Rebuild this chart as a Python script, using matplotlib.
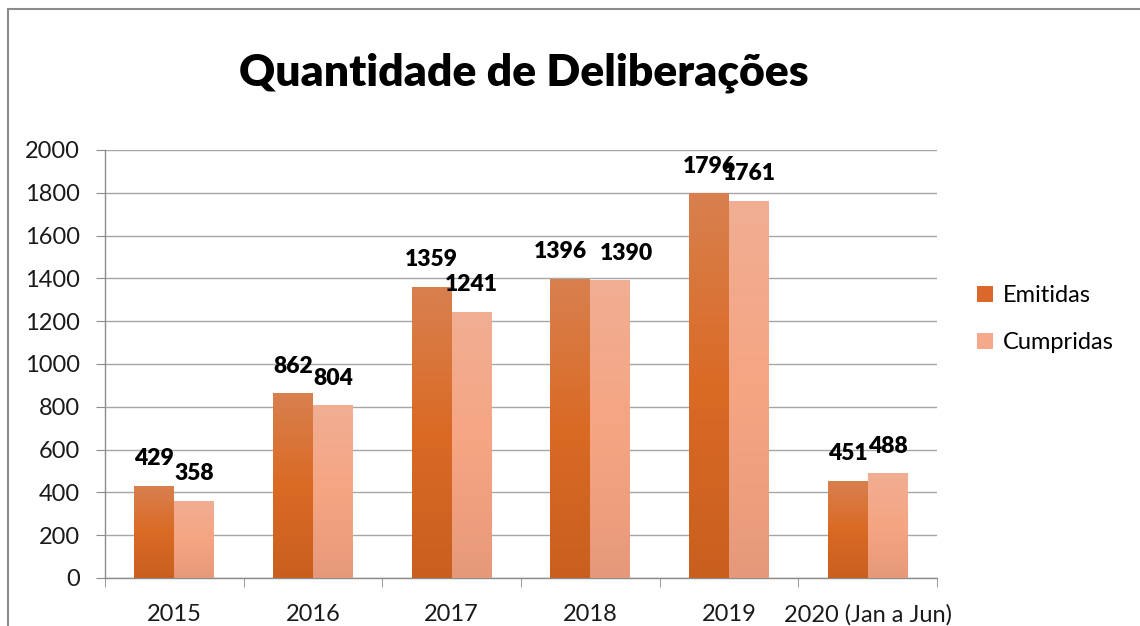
import numpy as np
import matplotlib
matplotlib.use("Agg")
import matplotlib.pyplot as plt
from matplotlib.colors import LinearSegmentedColormap
from matplotlib.patches import Rectangle

# ─── data ───
categories = ["2015", "2016", "2017", "2018", "2019", "2020 (Jan a Jun)"]
emitidas = [429, 862, 1359, 1396, 1796, 451]
cumpridas = [358, 804, 1241, 1390, 1761, 488]
series_names = ["Emitidas", "Cumpridas"]

# small manual nudges of data labels (pixels), like in the original chart
label_dx = [[0, 0, 0, -10, 0, 0], [0, 0, 0, 16, 0, 0]]

plt.rcParams['font.family'] = ['Lato', 'DejaVu Sans']

fig = plt.figure(figsize=(11.4, 6.26), dpi=100)
ax = fig.add_axes([105 / 1140, 48 / 626, 832 / 1140, 428 / 626])

# outer chart frame (cut at right/bottom like the screenshot)
fig.patches.append(Rectangle((8 / 1140, -0.05), 1.2, 1 - 9 / 626 + 0.05,
                             transform=fig.transFigure, fill=False,
                             edgecolor='#8c8c8c', linewidth=1.5))

cmaps = [
    LinearSegmentedColormap.from_list("emi", ["#C95F1F", "#DA6A24", "#D8804F"]),
    LinearSegmentedColormap.from_list("cum", ["#E6997A", "#F5A582", "#F1AE93"]),
]
solid = ["#D9682A", "#F3A98A"]

x = np.arange(len(categories))
w = 0.288
grad = np.linspace(0, 1, 256).reshape(-1, 1)

for k, vals in enumerate([emitidas, cumpridas]):
    offs = -w / 2 if k == 0 else w / 2
    bars = ax.bar(x + offs, vals, w, color=solid[k], label=series_names[k],
                  zorder=2, linewidth=0)
    for i, b in enumerate(bars):
        x0, y0 = b.get_x(), b.get_y()
        ax.imshow(grad, extent=[x0, x0 + b.get_width(), y0, y0 + b.get_height()],
                  origin='lower', aspect='auto', cmap=cmaps[k], zorder=3)
        ax.annotate(f"{int(b.get_height())}", (x0 + b.get_width() / 2, b.get_height()),
                    xytext=(label_dx[k][i] * 0.72, 19.8), textcoords='offset points',
                    ha='center', va='center', fontsize=16.5, fontweight='heavy',
                    color='black', zorder=5)

ax.set_xlim(-0.5, len(categories) - 0.5)
ax.set_ylim(0, 2000)
ax.set_yticks(range(0, 2001, 200))
ax.set_xticks(x)
ax.set_xticklabels(categories)
ax.set_xticks(np.arange(-0.5, len(categories), 1.0), minor=True)
ax.tick_params(axis='x', which='major', length=0, pad=18.5, labelsize=17,
               labelcolor='#1a1a1a')
ax.tick_params(axis='x', which='minor', length=6.5, color='#8c8c8c', direction='out')
ax.tick_params(axis='y', length=6.5, color='#8c8c8c', pad=11.5, labelsize=17,
               labelcolor='#1a1a1a')
ax.grid(axis='y', color='#a6a6a6', linewidth=1, zorder=0)
ax.set_axisbelow(True)
for s in ['top', 'right']:
    ax.spines[s].set_visible(False)
for s in ['left', 'bottom']:
    ax.spines[s].set_color('#8c8c8c')
    ax.spines[s].set_linewidth(1)

fig.text(524 / 1140, 1 - 73 / 626, "Quantidade de Deliberações", ha='center',
         va='center', fontsize=32, fontweight='heavy', color='black')

leg = ax.legend(loc='center left', frameon=False,
                fontsize=17, handlelength=0.65, handleheight=0.65,
                handletextpad=0.45, labelspacing=1.1)
leg.set_bbox_to_anchor((956 / 1140, 1 - 319 / 626), transform=fig.transFigure)

fig.savefig("out.png", dpi=100, facecolor='white')
